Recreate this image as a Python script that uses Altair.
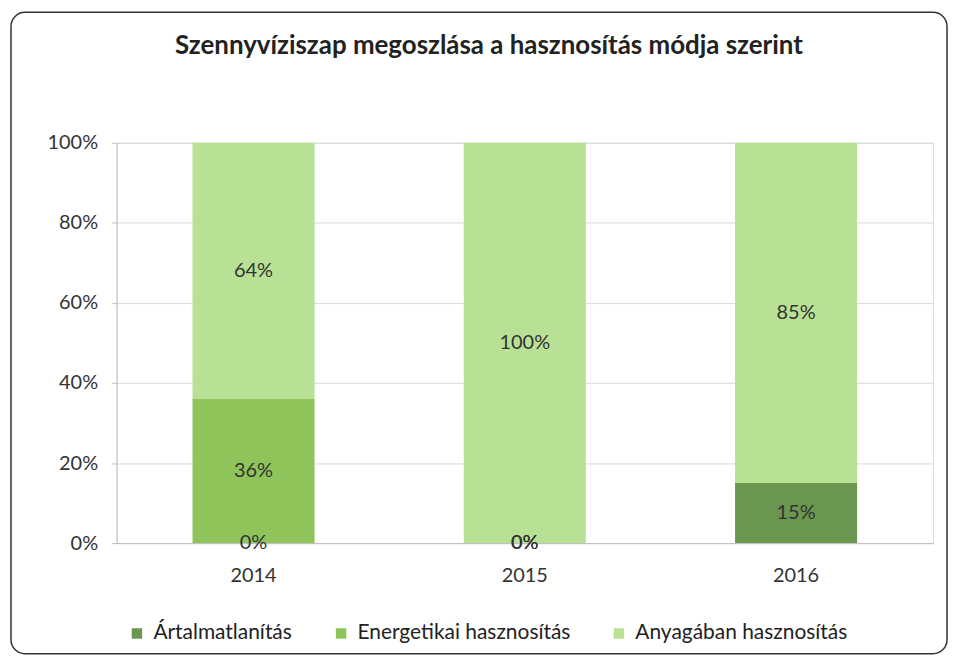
import altair as alt
import pandas as pd

years = ["2014", "2015", "2016"]
series = ["Ártalmatlanítás", "Energetikai hasznosítás", "Anyagában hasznosítás"]
artalmatlanitas = [0, 0, 15]
energetikai = [36, 0, None]
anyagaban = [64, 100, 85]
colors = ["#6b9650", "#8ec45a", "#b9e195"]

rows = []
for i, y in enumerate(years):
    for k, (s, vals) in enumerate(zip(series, [artalmatlanitas, energetikai, anyagaban])):
        v = vals[i]
        if v is None:
            continue
        rows.append({"year": y, "series": s, "order": k, "value": v / 100.0,
                     "label": f"{v}%"})
df = pd.DataFrame(rows)

base = alt.Chart(df).transform_stack(
    stack="value", groupby=["year"], as_=["y0", "y1"],
    sort=[alt.SortField("order", order="ascending")]
).transform_calculate(mid="(datum.y0 + datum.y1) / 2")

xenc = alt.X("year:N", title=None,
             scale=alt.Scale(paddingInner=0.55, paddingOuter=0.28),
             axis=alt.Axis(labelAngle=0, labelFontSize=20, labelColor="#333333",
                           labelPadding=23, ticks=False, domainColor="#bfbfbf",
                           grid=False))

bars = base.mark_bar().encode(
    x=xenc,
    y=alt.Y("y0:Q", title=None,
            scale=alt.Scale(domain=[0, 1]),
            axis=alt.Axis(format=".0%", values=[0, 0.2, 0.4, 0.6, 0.8, 1.0],
                          labelFontSize=20, labelColor="#333333", labelPadding=14,
                          tickSize=5, tickColor="#bfbfbf", domainColor="#bfbfbf",
                          gridColor="#d9d9d9")),
    y2="y1:Q",
    color=alt.Color("series:N", scale=alt.Scale(domain=series, range=colors),
                    legend=alt.Legend(title=None, orient="none", direction="horizontal",
                                      legendX=10, legendY=482,
                                      symbolType="square", symbolSize=110,
                                      symbolStrokeWidth=0, labelFontSize=21,
                                      labelLimit=0,
                                      labelColor="#222222", columnPadding=38,
                                      labelOffset=6)),
)

labels = base.mark_text(fontSize=20, color="#333333", baseline="middle").encode(
    x=alt.X("year:N"),
    y=alt.Y("mid:Q"),
    text="label:N",
)

frame = alt.Chart(alt.Data(values=[{}])).mark_rect(
    fill="white", fillOpacity=0, stroke="#333333", strokeWidth=1.5, cornerRadius=14
).encode(x=alt.value(-106), x2=alt.value(834), y=alt.value(-131), y2=alt.value(513))

chart = alt.layer(frame, bars, labels).properties(
    width=820, height=402,
    padding={"left": 2, "top": 2, "right": 2, "bottom": 2},
    title=alt.TitleParams("Szennyvíziszap megoszlása a hasznosítás módja szerint",
                          fontSize=26, fontWeight="bold", color="#222222",
                          anchor="middle", offset=-48, dx=-36),
).configure_view(stroke=None).configure(font="Lato")

chart.save("out.html", embed_options={"renderer": "svg", "actions": False})
